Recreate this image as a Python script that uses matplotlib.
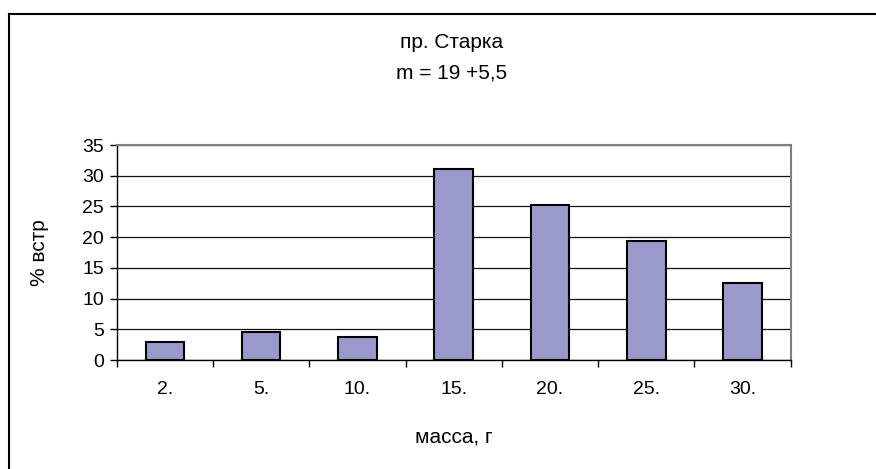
import matplotlib
matplotlib.use("Agg")
import matplotlib.pyplot as plt
from matplotlib.lines import Line2D
import numpy as np

plt.rcParams['font.family'] = ['Liberation Sans', 'DejaVu Sans']

# ==== данные ====
categories = ["2.", "5.", "10.", "15.", "20.", "25.", "30."]
percent = [2.9, 4.5, 3.8, 31.1, 25.2, 19.4, 12.6]

W, H = 876, 469
fig = plt.figure(figsize=(W / 100, H / 100), dpi=100)
ax = fig.add_axes([116.7 / W, 1 - 360 / H, (790.7 - 116.7) / W, (360 - 145) / H])

x = np.arange(len(categories))
ax.bar(x, percent, width=0.4, color="#9999CC", edgecolor="black", linewidth=1.5, zorder=3)

ax.set_xlim(-0.5, len(categories) - 0.5)
ax.set_ylim(0, 35)
ax.set_yticks(range(0, 36, 5))
ax.yaxis.grid(True, color="#111111", linewidth=0.9, zorder=0)
ax.set_axisbelow(True)

# деления оси X между категориями
ax.set_xticks(x)
ax.set_xticklabels(categories, fontsize=14)
ax.set_xticks(np.arange(-0.5, len(categories), 1), minor=True)
ax.tick_params(axis="x", which="major", length=0, pad=15)
ax.tick_params(axis="x", which="minor", length=5, width=1, color="black")
ax.tick_params(axis="y", length=5, width=1, labelsize=14, pad=4)

for side in ("top", "right"):
    ax.spines[side].set_color("#808080")
    ax.spines[side].set_linewidth(1.5)
for side in ("left", "bottom"):
    ax.spines[side].set_color("black")
    ax.spines[side].set_linewidth(1)

ax.set_xlabel("масса, г", fontsize=15, va="center")
ax.xaxis.set_label_coords(0.5, (360 - 437) / 215)
ax.set_ylabel("% встр", fontsize=15, va="center")
ax.yaxis.set_label_coords((40 - 116.7) / 674, 0.5)

# заголовок
fig.text(452 / W, 1 - 43 / H, "пр. Старка", ha="center", va="center", fontsize=15)
fig.text(452 / W, 1 - 73 / H, "m = 19 +5,5", ha="center", va="center", fontsize=15)

# рамка диаграммы (видны только верх и левая сторона)
fig.add_artist(Line2D([8.5 / W, 8.5 / W], [0, 1 - 14 / H], color="black", linewidth=1.5,
                      transform=fig.transFigure))
fig.add_artist(Line2D([8.5 / W, 1], [1 - 14 / H, 1 - 14 / H], color="black", linewidth=1.5,
                      transform=fig.transFigure))

fig.savefig("out.png", dpi=100)
